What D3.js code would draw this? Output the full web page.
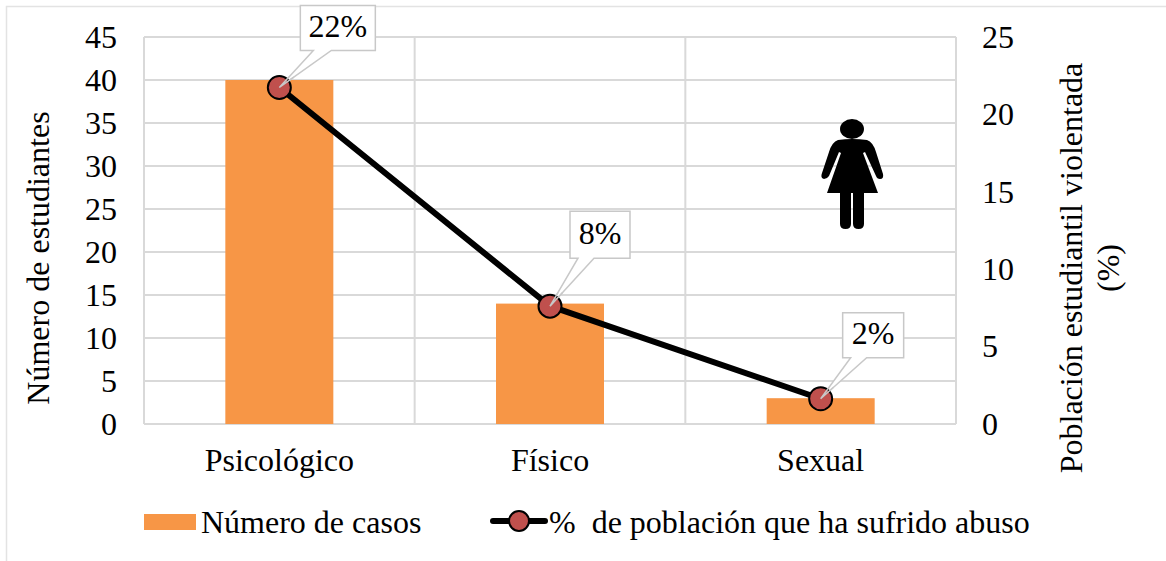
<!DOCTYPE html>
<html><head><meta charset="utf-8">
<script src="https://cdnjs.cloudflare.com/ajax/libs/d3/7.8.5/d3.min.js"></script>
<style>html,body{margin:0;padding:0;background:#fff}svg{display:block}text{font-family:"Liberation Serif",serif;fill:#000}</style>
</head><body><svg id="c" width="1166" height="561"></svg>
<script>
const categories=["Psicológico","Físico","Sexual"];
const casos=[40,14,3];
const porcentaje=[21.74,7.61,1.63];
const etiquetas=["22%","8%","2%"];
const leftTicks=[0,5,10,15,20,25,30,35,40,45];
const rightTicks=[0,5,10,15,20,25];
const barName="Número de casos", lineName="%  de población que ha sufrido abuso";

const svg=d3.select("#c");
const L=144,R=956,T=37,B=424,FS=32;
const x=d3.scaleBand().domain(categories).range([L,R]);
const yL=d3.scaleLinear().domain([0,45]).range([B,T]);
const yR=d3.scaleLinear().domain([0,25]).range([B,T]);
const GRID="#d9d9d9",ORANGE="#f79646",RED="#c0504d",CALL="#c8c8c8";

svg.append("path").attr("d","M6.5,561V6.5H1166").attr("fill","none").attr("stroke","#e3e3e3").attr("stroke-width",1.5);

svg.append("g").selectAll("line").data(leftTicks).join("line")
 .attr("x1",L).attr("x2",R).attr("y1",d=>yL(d)).attr("y2",d=>yL(d)).attr("stroke",GRID).attr("stroke-width",2);
svg.append("g").selectAll("line").data(d3.range(categories.length+1)).join("line")
 .attr("y1",T).attr("y2",B).attr("x1",i=>L+i*x.step()).attr("x2",i=>L+i*x.step()).attr("stroke",GRID).attr("stroke-width",2);

const bw=108;
svg.append("g").selectAll("rect").data(casos).join("rect")
 .attr("x",(d,i)=>x(categories[i])+x.bandwidth()/2-bw/2).attr("width",bw)
 .attr("y",d=>yL(d)).attr("height",d=>B-yL(d)).attr("fill",ORANGE);

function styleAxis(g){
  g.select(".domain").remove();g.selectAll("line").remove();
  g.selectAll("text").attr("font-size",FS).attr("font-family","Liberation Serif");
}
svg.append("g").attr("transform",`translate(${L},0)`)
 .call(d3.axisLeft(yL).tickValues(leftTicks).tickSize(0).tickPadding(27)).call(styleAxis);
svg.append("g").attr("transform",`translate(${R},0)`)
 .call(d3.axisRight(yR).tickValues(rightTicks).tickSize(0).tickPadding(26)).call(styleAxis);
svg.append("g").attr("transform",`translate(0,${B})`)
 .call(d3.axisBottom(x).tickSize(0).tickPadding(24)).call(styleAxis);

const title=(tx,ty,s)=>svg.append("text").attr("transform",`translate(${tx},${ty}) rotate(-90)`).attr("text-anchor","middle").attr("font-size",FS).text(s);
title(49,258,"Número de estudiantes");
title(1082,268,"Población estudiantil violentada");
title(1119,268,"(%)");

const lx=(d,i)=>x(categories[i])+x.bandwidth()/2;
svg.append("path").datum(porcentaje)
 .attr("d",d3.line().x(lx).y(d=>yR(d))).attr("fill","none").attr("stroke","#000").attr("stroke-width",6).attr("stroke-linecap","round").attr("stroke-linejoin","round");

// callouts: box offsets relative to each point; b0/b1 = tail base along the box bottom
const boxes=[{dx:21,dy:-82,w:75,h:45,b0:13,b1:31},{dx:20,dy:-95,w:60,h:47,b0:8,b1:24},{dx:22,dy:-86,w:61,h:45,b0:8,b1:24}];
porcentaje.forEach((d,i)=>{
  const px=lx(d,i),py=yR(d),b=boxes[i],X=px+b.dx,Y=py+b.dy,yb=Y+b.h;
  svg.append("path").attr("d",d3.line()([[X,Y],[X+b.w,Y],[X+b.w,yb],[X+b.b1,yb],[px,py],[X+b.b0,yb],[X,yb]])+"Z")
   .attr("fill","#fff").attr("stroke",CALL).attr("stroke-width",1.5);
});
svg.append("g").selectAll("circle").data(porcentaje).join("circle")
 .attr("cx",lx).attr("cy",d=>yR(d)).attr("r",11.5).attr("fill",RED).attr("stroke","#000").attr("stroke-width",2);
porcentaje.forEach((d,i)=>{
  const px=lx(d,i),py=yR(d),b=boxes[i],X=px+b.dx,Y=py+b.dy,yb=Y+b.h,t=0.72;
  const at=bx=>[bx+(px-bx)*t,yb+(py-yb)*t];
  svg.append("path").attr("d",d3.line()([at(X+b.b0),[px,py],at(X+b.b1)])).attr("fill","none").attr("stroke",CALL).attr("stroke-width",1.5);
  svg.append("text").attr("x",X+b.w/2).attr("y",Y+b.h/2+9).attr("text-anchor","middle").attr("font-size",FS).text(etiquetas[i]);
});

svg.append("rect").attr("x",144).attr("y",514).attr("width",52).attr("height",16).attr("fill",ORANGE);
svg.append("text").attr("x",201).attr("y",533).attr("font-size",FS).text(barName);
svg.append("line").attr("x1",493).attr("x2",545).attr("y1",521).attr("y2",521).attr("stroke","#000").attr("stroke-width",6).attr("stroke-linecap","round");
svg.append("circle").attr("cx",519).attr("cy",521).attr("r",10).attr("fill",RED).attr("stroke","#000").attr("stroke-width",2);
svg.append("text").attr("x",549).attr("y",533).attr("font-size",FS).style("white-space","pre").text(lineName);

const w=svg.append("g").attr("fill","#000");
w.append("ellipse").attr("cx",852).attr("cy",129).attr("rx",12).attr("ry",10);
w.append("path").attr("d","M838,140 Q852,138 867,140 Q873,142 876,152 L883,174 Q884,179 880,179 Q877,179 876,176 L865,152 L863,153 L878,193 L827,193 L841,153 L839,152 L829,176 Q827,179 824,179 Q820,178 822,173 L829,152 Q832,142 838,140Z");
w.append("path").attr("d","M840,193 H851 V224 Q851,229 845.5,229 Q840,229 840,224Z");
w.append("path").attr("d","M853,193 H864 V224 Q864,229 858.5,229 Q853,229 853,224Z");
</script></body></html>
